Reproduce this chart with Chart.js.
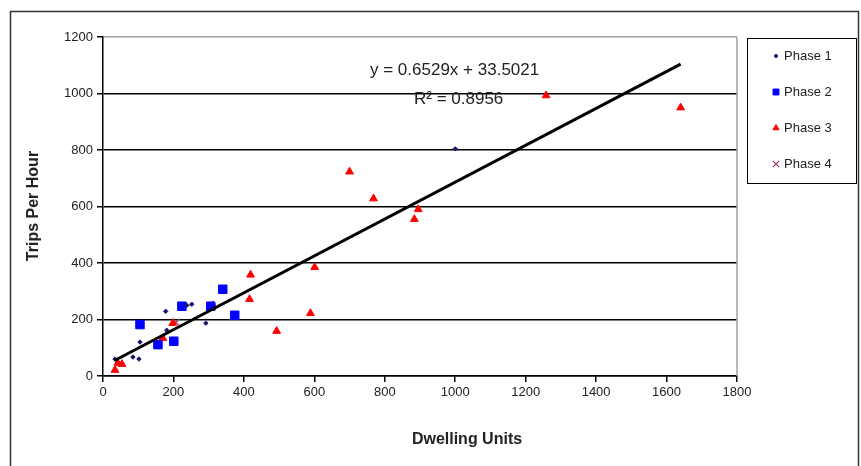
<!DOCTYPE html>
<html>
<head>
<meta charset="utf-8">
<script src="https://cdn.jsdelivr.net/npm/chart.js@4"></script>
<style>
  html, body { margin: 0; padding: 0; background: #fff; }
  #wrap { width: 861px; height: 466px; position: relative; }
</style>
</head>
<body>
<div id="wrap"><canvas id="chartTrips" width="861" height="466"></canvas></div>
<script>
// valores (x = Dwelling Units, y = Trips Per Hour)
const phase1 = [[34, 60], [85, 67], [102, 60], [105, 120], [178, 229], [181, 162], [238, 250], [252, 254], [292, 187], [1000, 804]];
const phase2 = [[105, 182], [156, 111], [201, 123], [224, 247], [306, 247], [340, 307], [374, 215]];
const phase3 = [[34, 21], [42, 46], [54, 42], [170, 134], [198, 187], [312, 250], [416, 272], [419, 358], [493, 159], [589, 222], [601, 385], [700, 723], [768, 628], [884, 555], [895, 590], [1258, 993], [1640, 950]];
const phase4 = [[207, 190]];
const trendLine = [[33, 55], [1640, 1104]];

const xTicks = [0, 200, 400, 600, 800, 1000, 1200, 1400, 1600, 1800];
const yTicks = [0, 200, 400, 600, 800, 1000, 1200];

const legendNames = ['Phase 1', 'Phase 2', 'Phase 3', 'Phase 4'];
const equationText = 'y = 0.6529x + 33.5021';
const r2Text = 'R\u00B2 = 0.8956';
const xTitle = 'Dwelling Units';
const yTitle = 'Trips Per Hour';

const FONT = 'Arial, "Liberation Sans", sans-serif';

const toXY = arr => arr.map(p => ({ x: p[0], y: p[1] }));

const seriesStyle = [
  { color: '#14146e', style: 'rectRot', radius: 2.2, legendR: 2, border: 1 },
  { color: '#0000ff', style: 'rect', radius: 6, legendR: 4.2, border: 1 },
  { color: '#ff0000', style: 'triangle', radius: 4.5, legendR: 3.5, border: 1 },
  { color: '#993366', style: 'crossRot', radius: 5, legendR: 4.5, border: 1.2 }
];
const seriesData = [phase1, phase2, phase3, phase4];

const datasets = seriesData.map((d, i) => ({
  type: 'scatter',
  label: legendNames[i],
  data: toXY(d),
  pointStyle: seriesStyle[i].style,
  pointRadius: seriesStyle[i].radius,
  pointBackgroundColor: seriesStyle[i].color,
  pointBorderColor: seriesStyle[i].color,
  pointBorderWidth: seriesStyle[i].border,
  order: 1
}));

datasets.push({
  type: 'line',
  label: 'Linear',
  data: toXY(trendLine),
  borderColor: '#000',
  borderWidth: 3,
  pointRadius: 0,
  fill: false,
  order: 0
});

// marco exterior, borde del area, textos y leyenda
const decor = {
  id: 'decor',
  beforeDraw(chart) {
    const ctx = chart.ctx;
    ctx.save();
    ctx.strokeStyle = '#333';
    ctx.lineWidth = 1.5;
    ctx.strokeRect(10.5, 11.5, 848, 470);
    ctx.restore();
  },
  afterDraw(chart) {
    const ctx = chart.ctx;
    const a = chart.chartArea;
    ctx.save();
    // borde gris a la derecha
    ctx.strokeStyle = '#a0a0a0';
    ctx.lineWidth = 1.5;
    ctx.beginPath();
    ctx.moveTo(a.right, a.top);
    ctx.lineTo(a.right, a.bottom);
    ctx.stroke();

    // ecuacion
    ctx.fillStyle = '#222';
    ctx.font = '17px ' + FONT;
    ctx.textBaseline = 'middle';
    ctx.textAlign = 'left';
    ctx.fillText(equationText, 370, 70);
    ctx.fillText(r2Text, 414, 99);

    // titulos
    ctx.font = 'bold 16px ' + FONT;
    ctx.textAlign = 'center';
    ctx.fillText(xTitle, 467, 440);
    ctx.save();
    ctx.translate(34, 206);
    ctx.rotate(-Math.PI / 2);
    ctx.fillText(yTitle, 0, 0);
    ctx.restore();

    // leyenda
    ctx.strokeStyle = '#000';
    ctx.lineWidth = 1;
    ctx.strokeRect(747.5, 38.5, 109, 145);
    ctx.font = '13px ' + FONT;
    ctx.textAlign = 'left';
    legendNames.forEach((name, i) => {
      const y = 56 + i * 36;
      const s = seriesStyle[i];
      ctx.fillStyle = s.color;
      ctx.strokeStyle = s.color;
      ctx.lineWidth = s.border;
      Chart.helpers.drawPoint(ctx, {
        pointStyle: s.style,
        radius: s.legendR,
        rotation: 0,
        borderWidth: s.border
      }, 776, y);
      ctx.fillStyle = '#222';
      ctx.fillText(name, 784, y);
    });
    ctx.restore();
  }
};

const ctx = document.getElementById('chartTrips');
new Chart(ctx, {
  data: { datasets: datasets },
  options: {
    responsive: false,
    animation: false,
    layout: { padding: { left: 0, top: 37, right: 124, bottom: 0 } },
    plugins: {
      legend: { display: false },
      tooltip: { enabled: false }
    },
    scales: {
      x: {
        type: 'linear',
        min: 0,
        max: 1800,
        afterFit: s => { s.height = 90; },
        afterBuildTicks: s => { s.ticks = xTicks.map(v => ({ value: v })); },
        ticks: { color: '#222', font: { family: FONT, size: 13 }, padding: 3, callback: v => String(v) },
        grid: { drawOnChartArea: false, color: '#000', tickLength: 6, lineWidth: 1.5 },
        border: { color: '#000', width: 1.5 }
      },
      y: {
        type: 'linear',
        min: 0,
        max: 1200,
        afterFit: s => { s.width = 103; },
        afterBuildTicks: s => { s.ticks = yTicks.map(v => ({ value: v })); },
        ticks: { color: '#222', font: { family: FONT, size: 13 }, padding: 4, callback: v => String(v) },
        grid: {
          color: c => (c.tick && c.tick.value === 1200 ? '#a0a0a0' : '#000'),
          lineWidth: 1.5,
          tickLength: 6,
          tickColor: '#000'
        },
        border: { color: '#000', width: 1.5 }
      }
    }
  },
  plugins: [decor]
});
</script>
</body>
</html>
